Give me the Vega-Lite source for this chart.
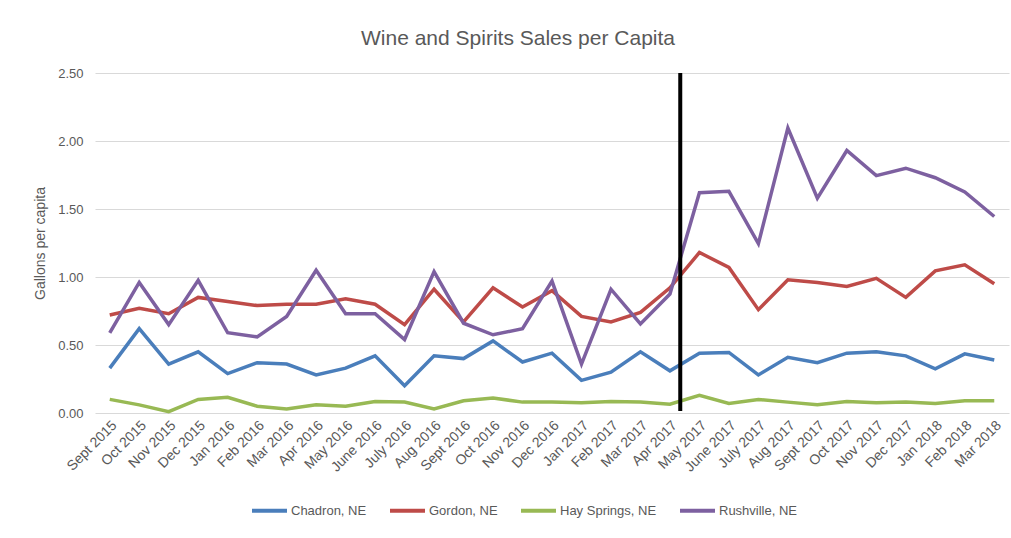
{
  "$schema": "https://vega.github.io/schema/vega-lite/v6.json",
  "width": 914,
  "height": 340,
  "autosize": "none",
  "padding": {"left": 95, "top": 73, "right": 2, "bottom": 125},
  "background": "white",
  "title": {"text": "Wine and Spirits Sales per Capita", "fontSize": 21, "font": "Liberation Sans", "fontWeight": "normal", "color": "#595959", "offset": 18, "dx": -34},
  "config": {"view": {"stroke": null}, "font": "Liberation Sans"},
  "layer": [
    {
      "data": {"values": [
        {"month": "Sept 2015", "Chadron, NE": 0.33, "Gordon, NE": 0.72, "Hay Springs, NE": 0.10, "Rushville, NE": 0.59},
        {"month": "Oct 2015", "Chadron, NE": 0.62, "Gordon, NE": 0.77, "Hay Springs, NE": 0.06, "Rushville, NE": 0.96},
        {"month": "Nov 2015", "Chadron, NE": 0.36, "Gordon, NE": 0.73, "Hay Springs, NE": 0.01, "Rushville, NE": 0.65},
        {"month": "Dec 2015", "Chadron, NE": 0.45, "Gordon, NE": 0.85, "Hay Springs, NE": 0.10, "Rushville, NE": 0.975},
        {"month": "Jan 2016", "Chadron, NE": 0.29, "Gordon, NE": 0.82, "Hay Springs, NE": 0.115, "Rushville, NE": 0.59},
        {"month": "Feb 2016", "Chadron, NE": 0.37, "Gordon, NE": 0.79, "Hay Springs, NE": 0.05, "Rushville, NE": 0.56},
        {"month": "Mar 2016", "Chadron, NE": 0.36, "Gordon, NE": 0.80, "Hay Springs, NE": 0.03, "Rushville, NE": 0.71},
        {"month": "Apr 2016", "Chadron, NE": 0.28, "Gordon, NE": 0.80, "Hay Springs, NE": 0.06, "Rushville, NE": 1.05},
        {"month": "May 2016", "Chadron, NE": 0.33, "Gordon, NE": 0.84, "Hay Springs, NE": 0.05, "Rushville, NE": 0.73},
        {"month": "June 2016", "Chadron, NE": 0.42, "Gordon, NE": 0.80, "Hay Springs, NE": 0.085, "Rushville, NE": 0.73},
        {"month": "July 2016", "Chadron, NE": 0.20, "Gordon, NE": 0.65, "Hay Springs, NE": 0.08, "Rushville, NE": 0.54},
        {"month": "Aug 2016", "Chadron, NE": 0.42, "Gordon, NE": 0.91, "Hay Springs, NE": 0.03, "Rushville, NE": 1.04},
        {"month": "Sept 2016", "Chadron, NE": 0.40, "Gordon, NE": 0.67, "Hay Springs, NE": 0.09, "Rushville, NE": 0.66},
        {"month": "Oct 2016", "Chadron, NE": 0.53, "Gordon, NE": 0.92, "Hay Springs, NE": 0.11, "Rushville, NE": 0.575},
        {"month": "Nov 2016", "Chadron, NE": 0.375, "Gordon, NE": 0.78, "Hay Springs, NE": 0.08, "Rushville, NE": 0.62},
        {"month": "Dec 2016", "Chadron, NE": 0.44, "Gordon, NE": 0.90, "Hay Springs, NE": 0.08, "Rushville, NE": 0.97},
        {"month": "Jan 2017", "Chadron, NE": 0.24, "Gordon, NE": 0.71, "Hay Springs, NE": 0.075, "Rushville, NE": 0.36},
        {"month": "Feb 2017", "Chadron, NE": 0.30, "Gordon, NE": 0.67, "Hay Springs, NE": 0.085, "Rushville, NE": 0.91},
        {"month": "Mar 2017", "Chadron, NE": 0.45, "Gordon, NE": 0.74, "Hay Springs, NE": 0.08, "Rushville, NE": 0.655},
        {"month": "Apr 2017", "Chadron, NE": 0.31, "Gordon, NE": 0.92, "Hay Springs, NE": 0.065, "Rushville, NE": 0.875},
        {"month": "May 2017", "Chadron, NE": 0.44, "Gordon, NE": 1.18, "Hay Springs, NE": 0.13, "Rushville, NE": 1.62},
        {"month": "June 2017", "Chadron, NE": 0.445, "Gordon, NE": 1.07, "Hay Springs, NE": 0.07, "Rushville, NE": 1.63},
        {"month": "July 2017", "Chadron, NE": 0.28, "Gordon, NE": 0.76, "Hay Springs, NE": 0.10, "Rushville, NE": 1.245},
        {"month": "Aug 2017", "Chadron, NE": 0.41, "Gordon, NE": 0.98, "Hay Springs, NE": 0.08, "Rushville, NE": 2.095},
        {"month": "Sept 2017", "Chadron, NE": 0.37, "Gordon, NE": 0.96, "Hay Springs, NE": 0.06, "Rushville, NE": 1.58},
        {"month": "Oct 2017", "Chadron, NE": 0.44, "Gordon, NE": 0.93, "Hay Springs, NE": 0.085, "Rushville, NE": 1.93},
        {"month": "Nov 2017", "Chadron, NE": 0.45, "Gordon, NE": 0.99, "Hay Springs, NE": 0.075, "Rushville, NE": 1.745},
        {"month": "Dec 2017", "Chadron, NE": 0.42, "Gordon, NE": 0.85, "Hay Springs, NE": 0.08, "Rushville, NE": 1.80},
        {"month": "Jan 2018", "Chadron, NE": 0.325, "Gordon, NE": 1.045, "Hay Springs, NE": 0.07, "Rushville, NE": 1.73},
        {"month": "Feb 2018", "Chadron, NE": 0.435, "Gordon, NE": 1.09, "Hay Springs, NE": 0.09, "Rushville, NE": 1.625},
        {"month": "Mar 2018", "Chadron, NE": 0.39, "Gordon, NE": 0.95, "Hay Springs, NE": 0.09, "Rushville, NE": 1.445}
      ]},
      "transform": [{"fold": ["Chadron, NE", "Gordon, NE", "Hay Springs, NE", "Rushville, NE"], "as": ["town", "gallons"]}],
      "mark": {"type": "line", "strokeWidth": 3.5},
      "encoding": {
        "x": {"field": "month", "type": "nominal", "sort": null, "bandPosition": 0.5,
          "scale": {"type": "band", "paddingInner": 0, "paddingOuter": 0},
          "axis": {"title": null, "labelAngle": -45, "labelFontSize": 14, "labelColor": "#595959", "domain": false, "ticks": false, "labelPadding": 5, "grid": false, "labelOverlap": false}},
        "y": {"field": "gallons", "type": "quantitative", "scale": {"domain": [0, 2.5], "nice": false},
          "axis": {"title": "Gallons per capita", "values": [0, 0.5, 1, 1.5, 2, 2.5], "format": ".2f", "domain": false, "ticks": false, "labelPadding": 12, "labelFontSize": 13, "labelColor": "#595959", "titleFontSize": 14, "titleColor": "#595959", "titleFontWeight": "normal", "titlePadding": 10, "gridColor": "#d9d9d9"}},
        "color": {"field": "town", "type": "nominal",
          "scale": {"domain": ["Chadron, NE", "Gordon, NE", "Hay Springs, NE", "Rushville, NE"], "range": ["#4a7ebb", "#be4b48", "#98b954", "#7d60a0"]},
          "legend": {"title": null, "orient": "none", "direction": "horizontal", "legendX": 155, "legendY": 418, "symbolType": "stroke", "symbolSize": 1225, "symbolStrokeWidth": 4, "labelFontSize": 13, "labelColor": "#595959", "columnPadding": 15, "labelOffset": 2}}
      }
    },
    {
      "data": {"values": [{"month": "Apr 2017", "top": 2.5, "bottom": 0.015}]},
      "mark": {"type": "rule", "color": "black", "strokeWidth": 4},
      "encoding": {
        "x": {"field": "month", "type": "nominal", "sort": null, "bandPosition": 0.85, "axis": {"title": null}},
        "y": {"field": "top", "type": "quantitative", "axis": {"title": "Gallons per capita"}},
        "y2": {"field": "bottom"}
      }
    }
  ]
}
